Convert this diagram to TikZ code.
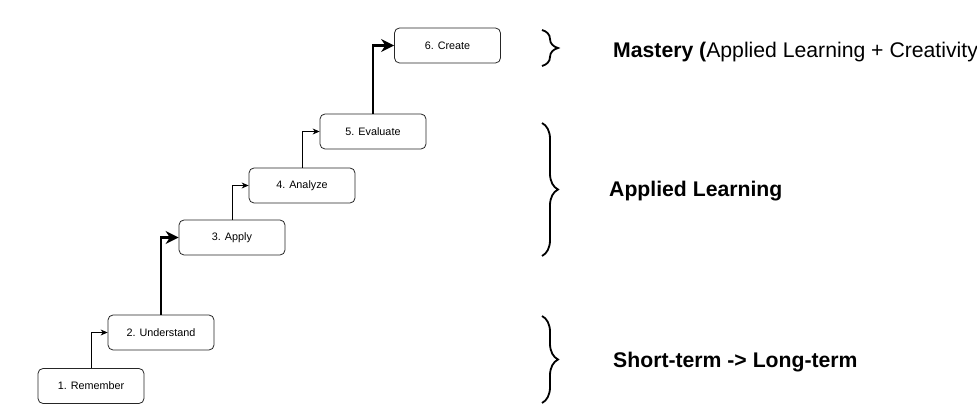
\documentclass[tikz,border=0pt]{standalone}
\usepackage{fontspec}
\setmainfont{Liberation Sans}
\usetikzlibrary{arrows.meta,decorations.pathreplacing}

\begin{document}
\begin{tikzpicture}[x=1pt,y=-1pt,
                    stage/.style={draw=black!85,line width=0.8pt,rounded corners=5pt,
                                  minimum width=106pt,minimum height=35pt,
                                  font=\fontsize{10.8}{12}\selectfont},
                    link/.style={line width=0.8pt,-{Stealth[length=7pt,width=6pt]}},
                    leap/.style={line width=2.6pt,-{Stealth[length=13pt,width=13pt]}},
                    bracket/.style={line width=1.8pt,decorate,
                                    decoration={brace,amplitude=16pt}},
                    tier/.style={anchor=base west,inner sep=0pt,
                                 font=\fontsize{21.2}{24}\selectfont}]
  \useasboundingbox (0,0) rectangle (977,419);

  \foreach \n/\x/\y/\t in {1/91/386/Remember,2/161/332.5/Understand,3/232/237.5/Apply,
                           4/302/185.5/Analyze,5/373/131.5/Evaluate,6/447.5/45.5/Create}
    \node[stage] (s\n) at (\x,\y) {\n. \t};

  \draw[link] (s1.north) |- (s2.west);
  \draw[leap] (s2.north) |- (s3.west);
  \draw[link] (s3.north) |- (s4.west);
  \draw[link] (s4.north) |- (s5.west);
  \draw[leap] (s5.north) |- (s6.west);

  \draw[bracket] (542,30) -- (542,66);
  \draw[bracket] (542,123) -- (542,256);
  \draw[bracket] (542,316) -- (542,403);

  \node[tier] (mastery) at (613,58) {\textbf{Mastery (}Applied Learning + Creativity)};
  \node[tier] (applied) at (609,197) {\textbf{Applied Learning}};
  \node[tier] (memory) at (613,367) {\textbf{Short-term -> Long-term}};
\end{tikzpicture}
\end{document}
